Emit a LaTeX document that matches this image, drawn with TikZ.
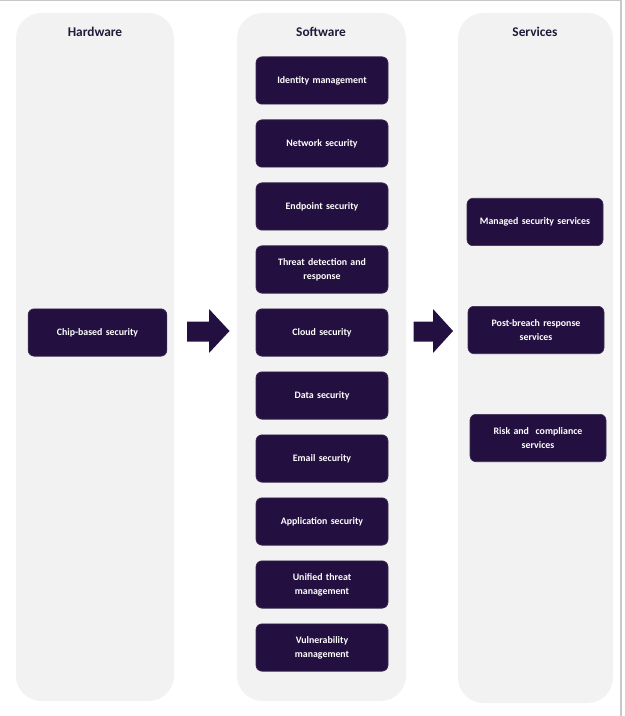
\documentclass[tikz,border=0pt]{standalone}
\usepackage{fontspec}
\setmainfont{Carlito}
\definecolor{panelgray}{HTML}{F2F2F2}
\definecolor{boxpurple}{HTML}{231040}
\definecolor{titleink}{HTML}{1E1B3A}
\definecolor{framegray}{HTML}{C8C8C8}
\begin{document}
\begin{tikzpicture}[x=0.75pt, y=-0.75pt]
    \useasboundingbox (0,0) rectangle (624,716);
    \draw[framegray, line width=1pt] (0,0.7) -- (621,0.7) -- (621,716);

    \begin{scope}[every path/.style={fill=panelgray, rounded corners=19pt}]
        \path (16,13) rectangle (174,701);
        \path (237,13) rectangle (406,701);
        \path (458,13) rectangle (613,703);
    \end{scope}

    \begin{scope}[every node/.style={text=titleink, font=\bfseries\fontsize{10}{12}\selectfont}]
        \node (hw) at (95,32) {Hardware};
        \node (sw) at (321,32) {Software};
        \node (sv) at (535,32) {Services};
    \end{scope}

    \begin{scope}[every node/.style={rectangle, rounded corners=4.5pt, fill=boxpurple, draw=boxpurple!75!gray, line width=0.5pt, text=white, align=center, text width=88pt, minimum width=99pt, minimum height=35.5pt, inner sep=0pt, font=\bfseries\fontsize{7.4}{10.3}\selectfont}]
        \node (1) at (97.5,332.5) [minimum width=104pt] {Chip-based security};

        \node (2) at (322,80.5) {Identity management};
        \node (3) at (322,143.5) {Network security};
        \node (4) at (322,206.5) {Endpoint security};
        \node (5) at (322,269.5) {Threat detection and\\ response};
        \node (6) at (322,332.5) {Cloud security};
        \node (7) at (322,395.5) {Data security};
        \node (8) at (322,458.5) {Email security};
        \node (9) at (322,521.5) {Application security};
        \node (10) at (322,584.5) {Unified threat\\ management};
        \node (11) at (322,647.5) {Vulnerability\\ management};

        \node (12) at (535,222) [minimum width=102pt] {Managed security services};
        \node (13) at (536,330) [minimum width=102pt] {Post-breach response\\ services};
        \node (14) at (538,438) [minimum width=102pt] {Risk and\ \ compliance\\ services};
    \end{scope}

    \begin{scope}[every path/.style={fill=boxpurple}]
        \path (187,321.5) -- (209,321.5) -- (209,309) -- (229.5,331) -- (209,353) -- (209,341.5) -- (187,341.5) -- cycle;
        \path (413.5,321.5) -- (433,321.5) -- (433,309) -- (453,331) -- (433,353) -- (433,341.5) -- (413.5,341.5) -- cycle;
    \end{scope}
\end{tikzpicture}
\end{document}
